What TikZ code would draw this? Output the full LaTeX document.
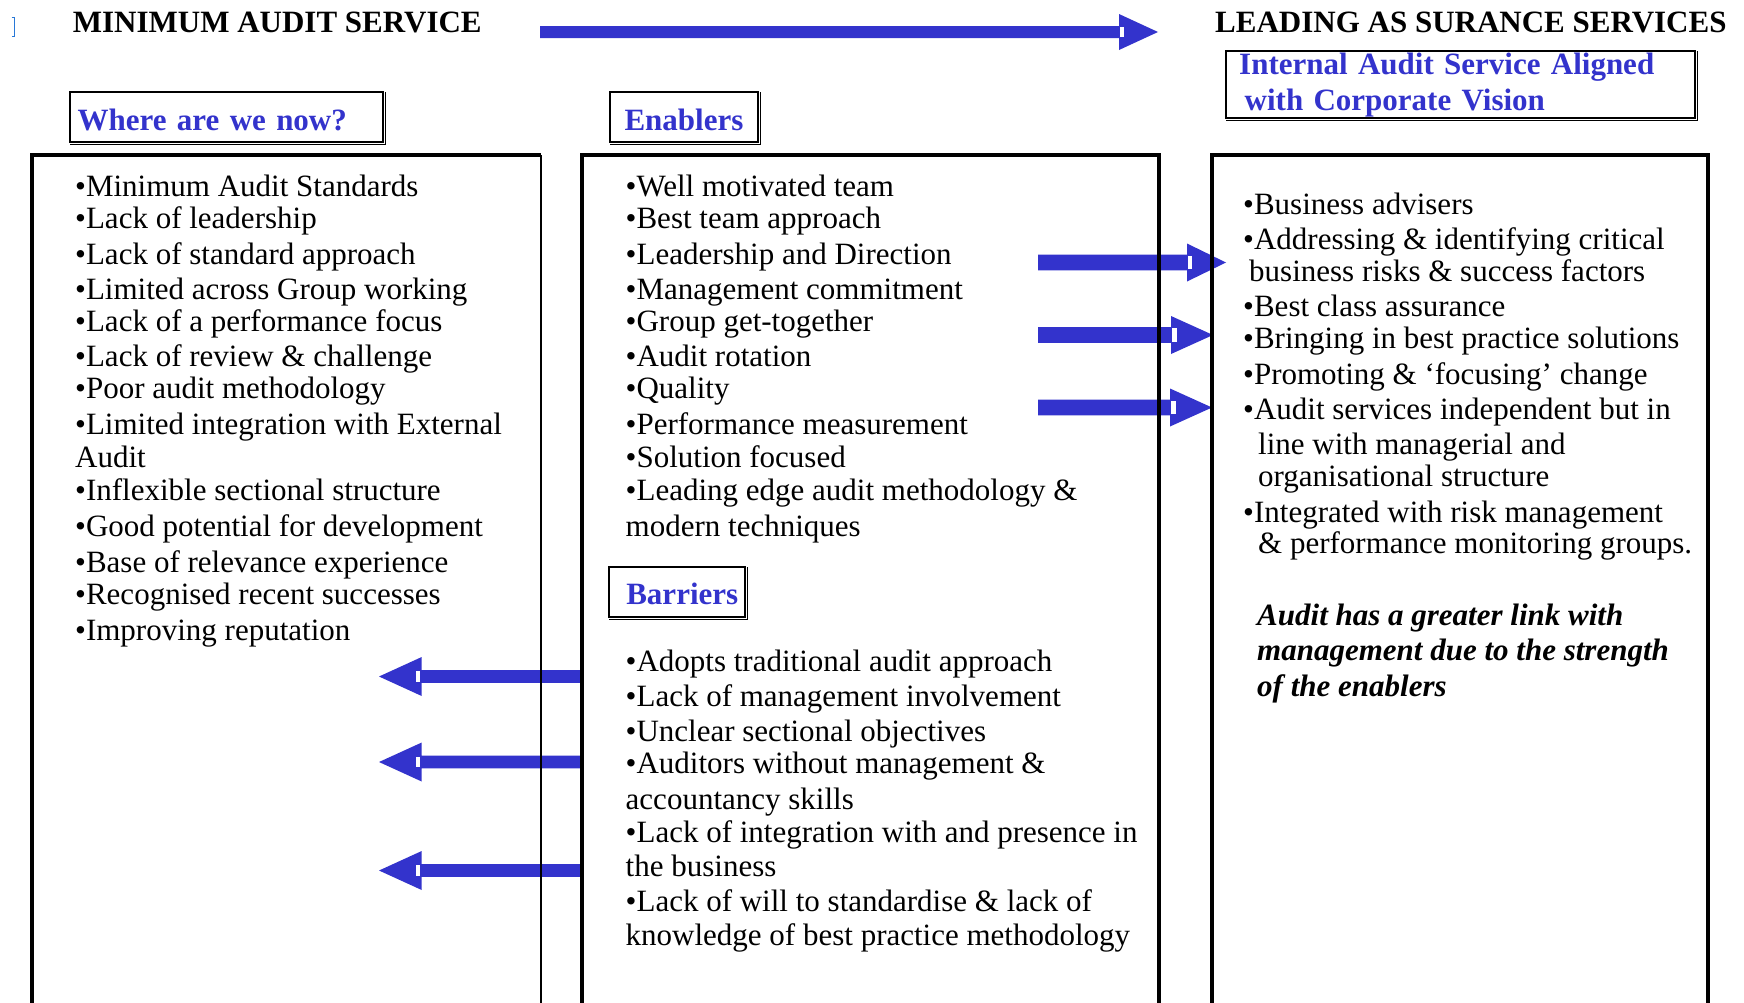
\documentclass[tikz,border=0pt]{standalone}
\usepackage{fontspec}
\setmainfont{Liberation Serif}
\usetikzlibrary{calc}
\definecolor{ablue}{RGB}{51,51,204}
\definecolor{cursorblue}{RGB}{40,120,215}
\newcommand\blockarrow[5]{%
  \fill[ablue] ($(#1)+(0,-#4)$) -- ($(#2)+({-(#3)},-#4)$) -- ($(#2)+({-(#3)},-#5)$) -- (#2)
    -- ($(#2)+({-(#3)},#5)$) -- ($(#2)+({-(#3)},#4)$) -- ($(#1)+(0,#4)$) -- cycle;
  \fill[white] ($(#2)+({-(#3)+0.03*(#3)},{-#4+1})$) rectangle ($(#2)+({-(#3)+0.14*(#3)},{#4-1})$);
}
\newcommand\hshadow[1]{\draw[line width=1.8, line join=miter] ($(#1.north east)+(1.1,1)$) -- ($(#1.south east)+(1.1,1.1)$) -- ($(#1.south west)+(1,1.1)$);}
\tikzset{
  txt/.style={anchor=base west, inner sep=0, font=\fontsize{31}{36}\selectfont},
  ttl/.style={anchor=base west, inner sep=0, font=\fontsize{31}{36}\selectfont\bfseries},
  note/.style={anchor=base west, inner sep=0, font=\fontsize{31}{36}\selectfont\bfseries\itshape},
  hdr/.style={draw, line width=2.4, anchor=north west, inner ysep=0, font=\fontsize{31}{36}\selectfont\bfseries, text=ablue},
  frame/.style={line width=4, line join=miter},
  thinframe/.style={line width=1.2},
}
\begin{document}
\begin{tikzpicture}[x=1pt,y=-1pt]
\useasboundingbox (0,0) rectangle (1744,1002);
\clip (0,0) rectangle (1744,1002);
\fill[white] (0,0) rectangle (1744,1002);

% cursor mark
\draw[cursorblue, line width=1] (11.5,17) -- (14,17) -- (14,36) -- (11.5,36);

% titles
\node[ttl] (tl) at (72.7,32.3) {MINIMUM AUDIT SERVICE};
\node[ttl] (tr) at (1215,32.3) {LEADING AS SURANCE SERVICES};

% top arrow
\coordinate (ts) at (540,32);
\coordinate (tt) at (1158,32);
\blockarrow{ts}{tt}{39}{6}{18}

% heading boxes
\node[hdr, inner xsep=7.5, text width=298, align=left, text height=38, text depth=12] (where) at (69,91) {Where are we now?};
\hshadow{where}
\node[hdr, inner xsep=14.5, text width=119.5, align=center, text height=38, text depth=12] (enab) at (608.5,91) {Enablers};
\hshadow{enab}
\node[hdr, inner xsep=13, text width=443, align=left, text height=23, text depth=44] (vision) at (1225,50) {Internal Audit Service Aligned\\\hspace*{5.5pt}with Corporate Vision};
\hshadow{vision}
\node[hdr, inner xsep=7, text width=122, align=right, text height=37, text depth=13] (barr) at (608,566) {Barriers};
\hshadow{barr}

% enabler arrows (to the right)
\coordinate (r1s) at (1038,262.5); \coordinate (r1t) at (1226,262.5);
\coordinate (r2s) at (1038,335);   \coordinate (r2t) at (1213,335);
\coordinate (r3s) at (1038,407.5); \coordinate (r3t) at (1212,407.5);
\blockarrow{r1s}{r1t}{39}{7.8}{19}
\blockarrow{r2s}{r2t}{42}{7.8}{19}
\blockarrow{r3s}{r3t}{42}{7.8}{19}

% barrier arrows (to the left)
\coordinate (l1s) at (582,676.5); \coordinate (l1t) at (379,676.5);
\coordinate (l2s) at (582,762);   \coordinate (l2t) at (379,762);
\coordinate (l3s) at (582,870.5); \coordinate (l3t) at (379,870.5);
\blockarrow{l1s}{l1t}{-42.7}{6.3}{19.5}
\blockarrow{l2s}{l2t}{-42.7}{6.3}{19.5}
\blockarrow{l3s}{l3t}{-42.7}{6.3}{19.5}

% main frames (open at the bottom)
\draw[frame] (32,1010) -- (32,155) -- (541,155);
\draw[thinframe] (541,155) -- (541,1010);
\draw[frame] (582,1010) -- (582,155) -- (1159,155) -- (1159,1010);
\draw[frame] (1212,1010) -- (1212,155) -- (1708,155) -- (1708,1010);

% left list
\foreach \y/\t [count=\i] in {
  196/{•Minimum Audit Standards},
  228/{•Lack of leadership},
  264/{•Lack of standard approach},
  299/{•Limited across Group working},
  331/{•Lack of a performance focus},
  366/{•Lack of review \& challenge},
  398/{•Poor audit methodology},
  434/{•Limited integration with External},
  467/{Audit},
  500/{•Inflexible sectional structure},
  536/{•Good potential for development},
  572/{•Base of relevance experience},
  604/{•Recognised recent successes},
  640/{•Improving reputation}}
  \node[txt] (L\i) at (75,\y) {\t};

% enablers list
\foreach \y/\t [count=\i] in {
  196/{•Well motivated team},
  228/{•Best team approach},
  264/{•Leadership and Direction},
  299/{•Management commitment},
  331/{•Group get-together},
  366/{•Audit rotation},
  398/{•Quality},
  434/{•Performance measurement},
  467/{•Solution focused},
  500/{•Leading edge audit methodology \&},
  536/{modern techniques}}
  \node[txt] (E\i) at (625.5,\y) {\t};

% barriers list
\foreach \y/\t [count=\i] in {
  671/{•Adopts traditional audit approach},
  706/{•Lack of management involvement},
  741/{•Unclear sectional objectives},
  773/{•Auditors without management \&},
  809/{accountancy skills},
  842/{•Lack of integration with and presence in},
  876/{the business},
  911/{•Lack of will to standardise \& lack of},
  945/{knowledge of best practice methodology}}
  \node[txt] (B\i) at (625.5,\y) {\t};

% right list
\foreach \x/\y/\t [count=\i] in {
  1243/214/{•Business advisers},
  1243/249/{•Addressing \& identifying critical},
  1249/281/{business risks \& success factors},
  1243/316/{•Best class assurance},
  1243/348/{•Bringing in best practice solutions},
  1243/384/{•Promoting \& ‘focusing’ change},
  1243/419/{•Audit services independent but in},
  1258/454/{line with managerial and},
  1258/486/{organisational structure},
  1243/522/{•Integrated with risk management},
  1258/553/{\& performance monitoring groups.}}
  \node[txt] (R\i) at (\x,\y) {\t};

% note
\node[note] (n1) at (1257,625) {Audit has a greater link with};
\node[note] (n2) at (1257,660) {management due to the strength};
\node[note] (n3) at (1257,696) {of the enablers};
\end{tikzpicture}
\end{document}
